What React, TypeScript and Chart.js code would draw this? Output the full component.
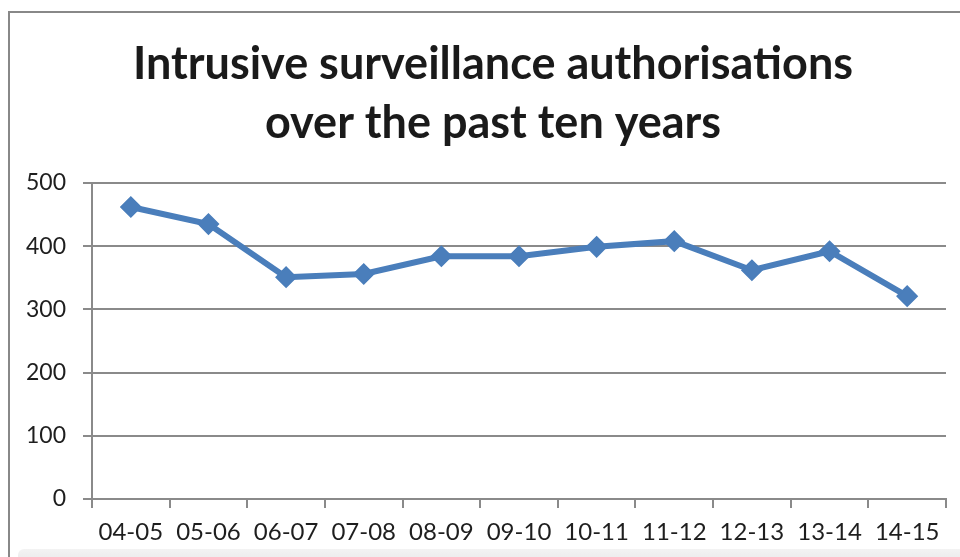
import React, { useEffect, useRef } from "react";
import { Chart, registerables } from "chart.js";

Chart.register(...registerables);

const categories = ["04-05", "05-06", "06-07", "07-08", "08-09", "09-10", "10-11", "11-12", "12-13", "13-14", "14-15"];
const authorisations = [462, 435, 351, 356, 384, 384, 399, 408, 362, 392, 321];
const titleLines = ["Intrusive surveillance authorisations", "over the past ten years"];
const yMin = 0;
const yMax = 500;
const yStep = 100;

const FONT = "Lato, 'Open Sans', sans-serif";
const GRID = "#8a8a8a";
const LINE = "#4a7ebb";

const titlePlugin = {
  id: "twoLineTitle",
  afterDraw(chart: any) {
    const ctx = chart.ctx as CanvasRenderingContext2D;
    ctx.save();
    ctx.font = `bold 45px ${FONT}`;
    ctx.fillStyle = "#1a1a1a";
    ctx.textAlign = "center";
    ctx.textBaseline = "alphabetic";
    const cx = chart.width / 2 + 13;
    ctx.fillText(titleLines[0], cx, 79);
    ctx.fillText(titleLines[1], cx, 138);
    ctx.restore();
  },
};

export default function App() {
  const ref = useRef<HTMLCanvasElement | null>(null);

  useEffect(() => {
    if (!ref.current) return;
    const chart = new Chart(ref.current, {
      type: "line",
      data: {
        labels: categories,
        datasets: [
          {
            label: "Authorisations",
            data: authorisations,
            borderColor: LINE,
            backgroundColor: LINE,
            borderWidth: 6,
            tension: 0,
            pointStyle: "rectRot",
            pointRadius: 10,
            pointHoverRadius: 10,
            pointBackgroundColor: LINE,
            pointBorderColor: LINE,
            pointBorderWidth: 1.5,
          },
        ],
      },
      options: {
        responsive: false,
        animation: false,
        layout: { padding: { left: 20, right: 14, top: 183, bottom: 0 } },
        plugins: {
          legend: { display: false },
          tooltip: { enabled: false },
          title: { display: false },
        },
        scales: {
          x: {
            type: "category",
            offset: true,
            afterFit: (scale: any) => {
              scale.height = 58;
            },
            grid: {
              offset: true,
              drawOnChartArea: false,
              drawTicks: true,
              tickLength: 9,
              color: GRID,
              lineWidth: 2,
            },
            border: { display: true, color: GRID, width: 2 },
            ticks: {
              color: "#1e1e1e",
              font: { family: FONT, size: 24 },
              padding: 10,
              maxRotation: 0,
              autoSkip: false,
            },
          },
          y: {
            min: yMin,
            max: yMax,
            afterFit: (scale: any) => {
              scale.width = 72;
            },
            grid: {
              color: GRID,
              lineWidth: 2,
              drawTicks: true,
              tickLength: 9,
            },
            border: { display: true, color: GRID, width: 2 },
            ticks: {
              stepSize: yStep,
              color: "#1e1e1e",
              font: { family: FONT, size: 23 },
              padding: 17,
            },
          },
        },
      },
      plugins: [titlePlugin],
    });
    return () => chart.destroy();
  }, []);

  return (
    <div style={{ position: "fixed", left: 0, top: 0, width: 960, height: 557, overflow: "hidden", background: "#fff" }}>
      <div
        style={{
          position: "absolute",
          left: 8,
          top: 11,
          width: 1000,
          height: 600,
          borderLeft: "2px solid #888",
          borderTop: "2px solid #888",
        }}
      />
      <canvas ref={ref} width={960} height={557} style={{ position: "absolute", left: 0, top: 0 }} />
      <div
        style={{
          position: "absolute",
          left: 18,
          top: 549,
          width: 950,
          height: 10,
          background: "linear-gradient(#f3f3f3, #ececec)",
          borderTopLeftRadius: 6,
        }}
      />
    </div>
  );
}
